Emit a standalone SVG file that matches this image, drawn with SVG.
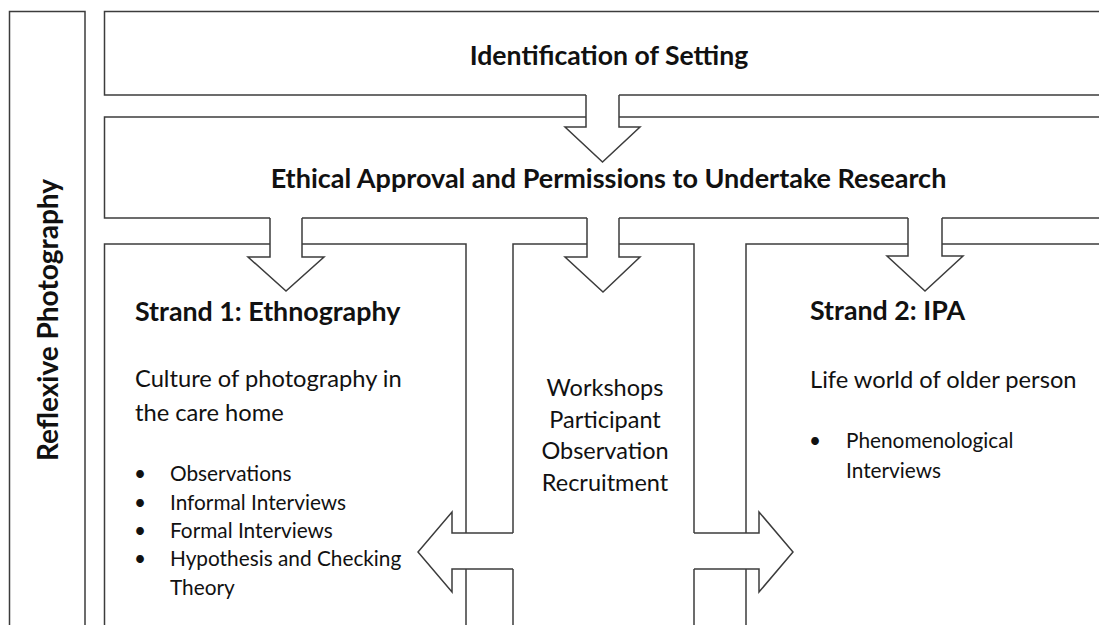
<svg xmlns="http://www.w3.org/2000/svg" width="1099" height="625" viewBox="0 0 1099 625">
<style>
.ln{fill:none;stroke:#3c3c3c;stroke-width:1.5;stroke-linejoin:miter}
.t{font-family:Lato,"Open Sans","Liberation Sans",sans-serif;fill:#111}
.b{font-weight:bold}
.h1{font-size:26.6px}
.h2{font-size:27px}
.hs{font-size:26.8px}
.body{font-size:23.7px}
.li{font-size:20.8px}
.mid{font-size:23.5px}
</style>
<rect width="1099" height="625" fill="#fff"/>
<g id="reflexive">
<path class="ln" d="M9.5,640 V11.5 H85 V640"/>
<text class="t b" font-size="28" transform="translate(58,320) rotate(-90)" text-anchor="middle">Reflexive Photography</text>
</g>
<g id="setting">
<path class="ln" d="M1110,11.5 H104.5 V95 H586 M619,95 H1110"/>
<text class="t b h1" x="609" y="65" text-anchor="middle">Identification of Setting</text>
</g>
<g id="ethics">
<path class="ln" d="M1110,117 H619 M586,117 H104.5 V218 H270 M302,218 H587 M619,218 H908 M942,218 H1110"/>
<text class="t b h2" x="608.5" y="188" text-anchor="middle">Ethical Approval and Permissions to Undertake Research</text>
</g>
<g id="strand1">
<path class="ln" d="M104.5,640 V244 H270 M302,244 H466 V533 M466,569 V640"/>
<text class="t b hs" x="135" y="321">Strand 1: Ethnography</text>
<text class="t body" x="135" y="387">Culture of photography in</text>
<text class="t body" x="135" y="421">the care home</text>
<g class="t li">
<text x="134" y="481">•</text><text x="170" y="481">Observations</text>
<text x="134" y="509.5">•</text><text x="170" y="509.5">Informal Interviews</text>
<text x="134" y="537.5">•</text><text x="170" y="537.5">Formal Interviews</text>
<text x="134" y="566">•</text><text x="170" y="566">Hypothesis and Checking</text>
<text x="170" y="595">Theory</text>
</g>
</g>
<g id="workshops">
<path class="ln" d="M513,640 V569 M513,533 V244 H587 M619,244 H694 V533 M694,569 V640"/>
<g class="t mid" text-anchor="middle">
<text x="605" y="396">Workshops</text>
<text x="605" y="427.5">Participant</text>
<text x="605" y="459">Observation</text>
<text x="605" y="491">Recruitment</text>
</g>
</g>
<g id="strand2">
<path class="ln" d="M746,640 V569 M746,533 V244 H908 M942,244 H1110"/>
<text class="t b hs" x="810" y="320">Strand 2: IPA</text>
<text class="t body" x="810" y="388">Life world of older person</text>
<g class="t li">
<text x="809" y="448">•</text><text x="846" y="448">Phenomenological</text>
<text x="846" y="478">Interviews</text>
</g>
</g>
<g id="connectors" class="ln">
<path d="M586,95 V127 H565 L602.5,162 L640,127 H619 V95"/>
<path d="M270,218 V257 H248 L286,291 L324,257 H302 V218"/>
<path d="M587,218 V257 H565 L603,292 L640,257 H619 V218"/>
<path d="M908,218 V256 H887 L925,291 L963,256 H942 V218"/>
<path d="M513,533 H452 V512 L418,552 L452,592 V569 H513"/>
<path d="M694,533 H759 V512 L793,552 L759,592 V569 H694"/>
</g>
</svg>
